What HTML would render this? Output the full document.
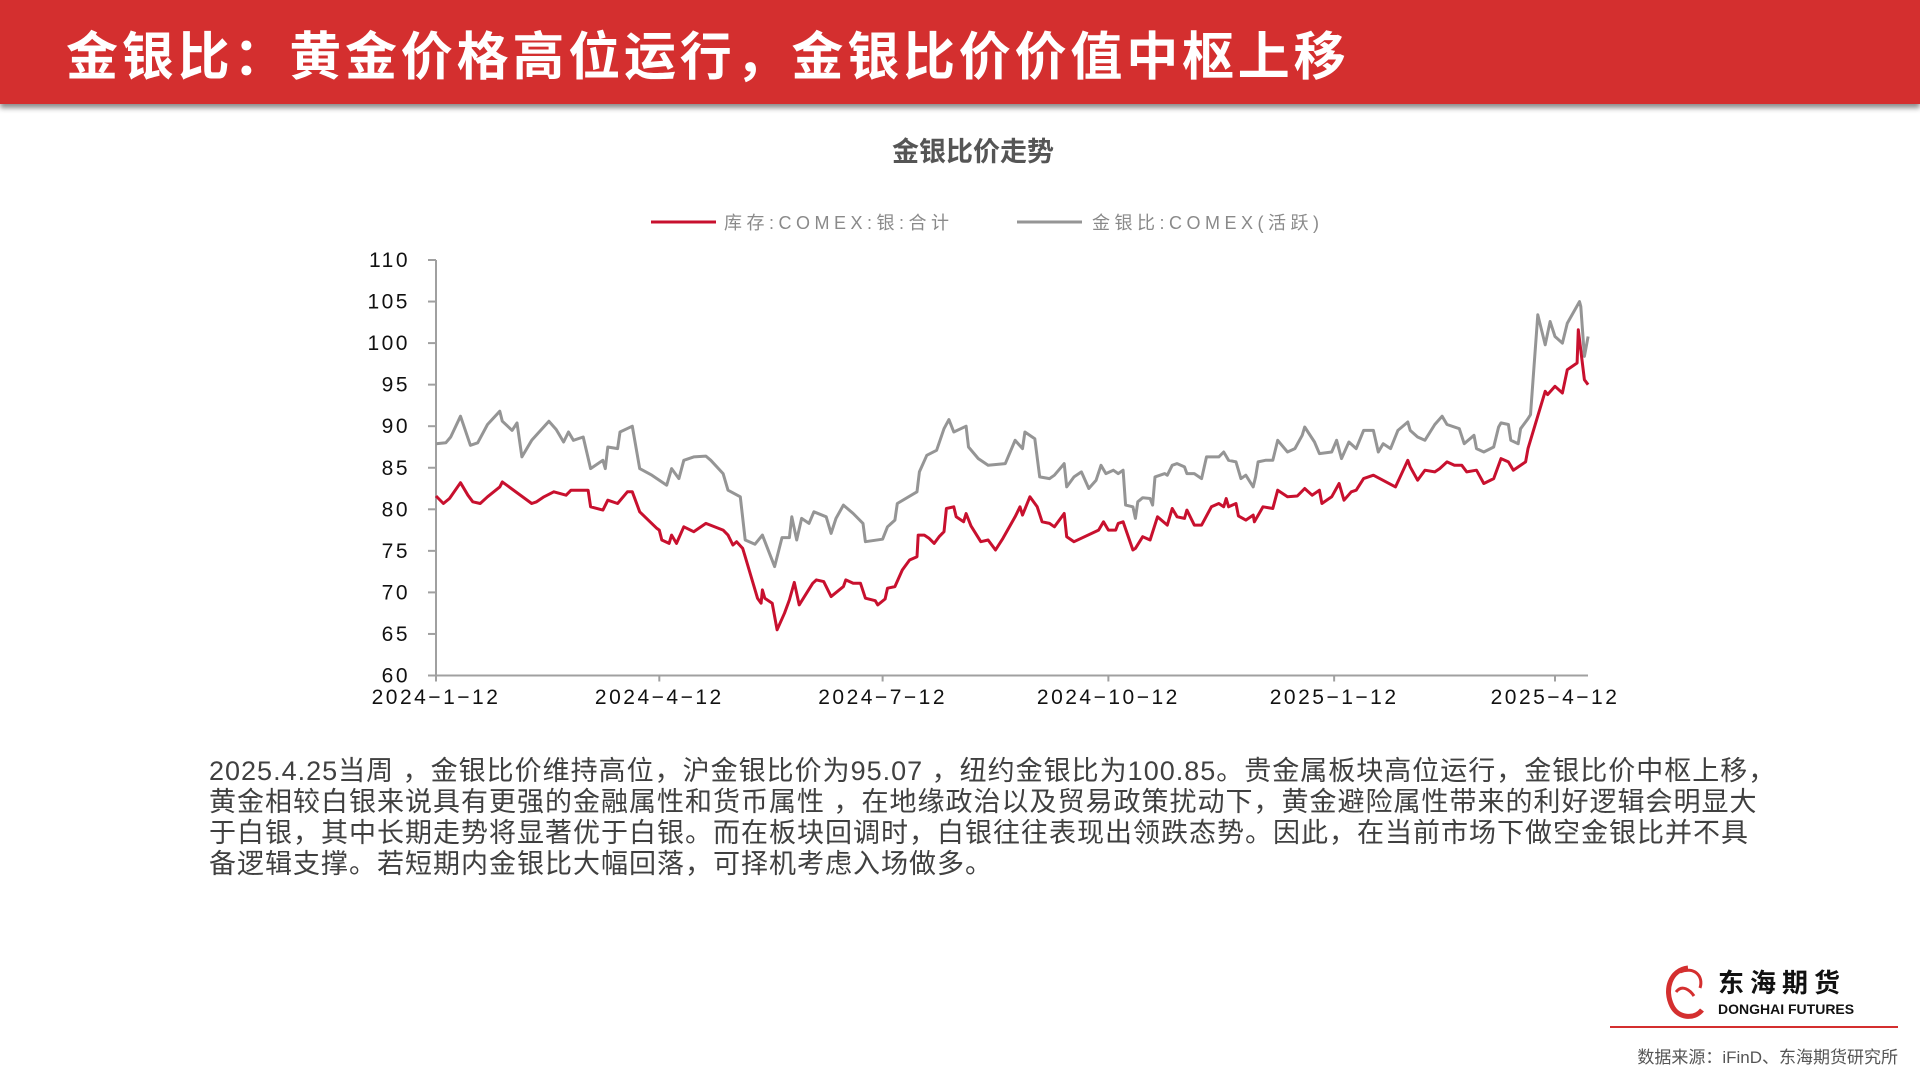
<!DOCTYPE html>
<html><head><meta charset="utf-8"><style>
body{margin:0;width:1920px;height:1080px;background:#fff;position:relative;overflow:hidden;font-family:"Liberation Sans","Noto Sans CJK SC",sans-serif}
#hdr{position:absolute;left:0;top:0;width:1920px;height:104px;background:#d42f2f;box-shadow:0 4px 5px rgba(0,0,0,.45)}
#hdr h1{margin:0;position:absolute;left:66px;top:28px;font-size:52px;line-height:60px;color:#fff;font-weight:bold;letter-spacing:3.8px}
#ctitle{position:absolute;left:0;width:1946px;top:130px;text-align:center;font-size:27px;font-weight:bold;color:#555}
#para{position:absolute;left:209px;top:756px;font-size:27px;line-height:31px;color:#404040;white-space:nowrap;letter-spacing:1px}
#src{position:absolute;right:22px;top:1043px;font-size:17px;color:#555}
#rule{position:absolute;left:1610px;top:1026px;width:288px;height:2px;background:#d42f2f}
#logo{position:absolute;left:1660px;top:962px;width:210px;height:62px}
</style></head><body>
<div id="hdr"><h1>金银比：黄金价格高位运行，金银比价价值中枢上移</h1></div>
<div id="ctitle">金银比价走势</div>
<svg id="chart" width="1920" height="1080" style="position:absolute;left:0;top:0"></svg>
<div id="para">2025.4.25当周 ，金银比价维持高位，沪金银比价为95.07 ，纽约金银比为100.85。贵金属板块高位运行，金银比价中枢上移，<br>黄金相较白银来说具有更强的金融属性和货币属性 ，在地缘政治以及贸易政策扰动下，黄金避险属性带来的利好逻辑会明显大<br>于白银，其中长期走势将显著优于白银。而在板块回调时，白银往往表现出领跌态势。因此，在当前市场下做空金银比并不具<br>备逻辑支撑。若短期内金银比大幅回落，可择机考虑入场做多。</div>
<svg id="logo" viewBox="0 0 210 62">
<path d="M28 6 C10 8 4 28 12 44 C18 56 34 58 42 48" fill="none" stroke="#d42f2f" stroke-width="5"/>
<path d="M20 10 C34 4 44 14 40 26 M16 30 C22 22 30 28 34 34" fill="none" stroke="#d42f2f" stroke-width="3"/>
<text x="58" y="30" font-size="26" font-weight="bold" fill="#111" font-family="Liberation Sans,Noto Sans CJK SC,sans-serif" letter-spacing="6">东海期货</text>
<text x="58" y="52" font-size="14" font-weight="bold" fill="#111" font-family="Liberation Sans,sans-serif">DONGHAI FUTURES</text>
</svg>
<div id="rule"></div>
<div id="src">数据来源：iFinD、东海期货研究所</div>
<script>
const xTickLabels=["2024-1-12","2024-4-12","2024-7-12","2024-10-12","2025-1-12","2025-4-12"];
const xTickDays=[0,91,182,274,366,456];
const yTicks=[60,65,70,75,80,85,90,95,100,105,110];
const seriesNames=["库存:COMEX:银:合计","金银比:COMEX(活跃)"];
const redDays=[0,3,5.5,10,13,15,18,21,26,27,39,41,44,48,53,55,62,63,68,70,74,78,80,83,90,91,92,95,96,98,101,105,110,117,119,121,122.5,125,126,131,132.5,133,134,137,139,142,144,146,148,153.5,155,158,161,166,167,170,173,175,179,180,183,184,187,190,193,196,196.5,199,201,203,205,207,208,211,212,215,216,218,222,225,228,231,236,238,239,242,245,247,250,252,256,257,260,270,272,274,277,278,280,284,285,288,291,294,298,300,302,305,306,309,312,316,319,321,322,323,326,327,330,333,333.5,337,341,343,347,351,354,357,360,361,365,368,370,373,375,378,382,391,396,397,400,403,407,409,412,415,418,420,424,427,431,434,437,439,444,445,452,453,456,459,461,465,465.5,468,469.5];
const redVals=[81.6,80.7,81.3,83.2,81.7,80.9,80.7,81.5,82.7,83.3,80.7,80.9,81.5,82.1,81.7,82.3,82.3,80.3,79.9,81.1,80.7,82.1,82.1,79.7,77.7,77.5,76.3,75.9,76.9,75.9,77.9,77.3,78.3,77.5,76.9,75.7,76.1,75.3,74.3,69.3,68.7,70.3,69.3,68.7,65.5,67.5,69.1,71.2,68.5,71.1,71.5,71.3,69.5,70.7,71.5,71.1,71.1,69.3,69.0,68.5,69.2,70.5,70.7,72.7,73.9,74.3,76.9,76.9,76.5,75.9,76.7,77.3,80.1,80.3,79.1,78.5,79.5,78.0,76.1,76.3,75.1,76.5,79.1,80.3,79.3,81.5,80.3,78.5,78.3,77.9,79.5,76.7,76.1,77.5,78.5,77.5,77.5,78.3,78.5,75.1,75.3,76.7,76.3,79.1,78.1,80.1,79.1,78.9,79.9,78.1,78.1,80.3,80.7,80.3,81.3,80.3,80.7,79.2,78.7,79.3,78.5,80.3,80.1,82.3,81.5,81.6,82.5,81.7,82.3,80.7,81.5,83.1,81.1,82.1,82.3,83.7,84.1,82.7,85.9,85.1,83.5,84.7,84.5,84.9,85.7,85.3,85.3,84.5,84.7,83.1,83.7,86.1,85.7,84.7,85.7,87.3,94.2,93.8,94.8,94.0,96.8,97.6,101.6,95.6,95.0];
const grayDays=[0,4,6,10,14,17,21,26,27,31,33,35,39,46,49,52,54,56,60,63,68,69,70,74,75,80,83,88,94,96,99,101,105,110,112,117,119,124,126,130,133,138,141,144,145,147,149,152,154,159,161,163,166,170,174,175,182,184,187,188,196,197,200,204,207,209,211,216,217,221,225,232,236,239,240,244,246,250,252,256,257,260,263,266,269,271,273,276,278,280,281,284,285,286,288,291,292,293,297,298,300,302,305,306,309,312,314,319,321,323,326,328,330,333,334,335,338,341,343,347,350,353,354,358,360,365,367,369,372,375,378,382,384,386,389,392,396,397,400,403,407,410,412,417,419,423,424,427,431,433,434,437,438,441,442,445,446,449,452,454,456,459,461,466,466.5,468,469.5];
const grayVals=[87.9,88.0,88.7,91.2,87.7,88.0,90.2,91.8,90.6,89.5,90.4,86.3,88.3,90.6,89.6,88.1,89.3,88.3,88.7,84.9,85.9,84.9,87.5,87.3,89.3,90.0,84.9,84.1,82.9,84.9,83.7,85.9,86.3,86.4,85.9,84.3,82.3,81.5,76.3,75.8,76.9,73.1,76.6,76.6,79.1,76.3,78.9,78.3,79.7,79.1,77.1,78.9,80.5,79.5,78.3,76.1,76.4,77.9,78.7,80.7,82.1,84.5,86.5,87.1,89.7,90.8,89.3,90.0,87.5,86.1,85.3,85.5,88.3,87.3,89.3,88.5,83.9,83.7,84.1,85.5,82.7,83.9,84.5,82.5,83.5,85.3,84.3,84.7,84.3,84.7,80.5,80.3,78.9,80.9,81.4,81.3,80.5,83.9,84.3,84.1,85.3,85.5,85.1,84.3,84.3,83.7,86.3,86.3,86.9,85.9,85.7,83.7,84.1,82.7,83.9,85.7,85.9,85.9,88.3,86.9,87.3,88.9,89.9,88.1,86.7,86.9,88.3,86.1,88.1,87.3,89.5,89.5,86.9,87.9,87.3,89.5,90.5,89.5,88.7,88.3,90.2,91.2,90.2,89.7,87.9,88.9,87.3,86.9,87.5,89.9,90.4,90.2,88.3,87.9,89.7,90.9,91.4,103.4,99.8,102.6,100.8,100.0,102.4,105.0,104.4,98.4,100.8];

const svg=document.getElementById('chart');
const NS='http://www.w3.org/2000/svg';
const X0=436,PXD=(1555-436)/456,Y0=675.5,Y1=260,XEND=1588;
const xs=d=>X0+d*PXD;
const ys=v=>Y0-(v-60)/50*(Y0-Y1);
function mk(tag,attrs){const e=document.createElementNS(NS,tag);for(const k in attrs)e.setAttribute(k,attrs[k]);svg.appendChild(e);return e;}
const ax=mk('line',{x1:X0,y1:Y1,x2:X0,y2:Y0,stroke:'#a0a0a0','stroke-width':2});


const bx=mk('line',{x1:X0,y1:Y0,x2:XEND,y2:Y0,stroke:'#a0a0a0','stroke-width':2});


yTicks.forEach(v=>{
 mk('line',{x1:X0-8,x2:X0,y1:ys(v),y2:ys(v),stroke:'#a0a0a0','stroke-width':2});
 const t=mk('text',{x:410,y:ys(v)+7,'text-anchor':'end','font-size':21,fill:'#111','font-family':'Liberation Sans,sans-serif','letter-spacing':'2.5'});
 t.textContent=v;
 
 
});
xTickDays.forEach((d,i)=>{
 mk('line',{x1:xs(d),x2:xs(d),y1:Y0,y2:Y0+6,stroke:'#a0a0a0','stroke-width':2});
 const t=mk('text',{x:xs(d),y:704,'text-anchor':'middle','font-size':21,fill:'#111','font-family':'Liberation Sans,sans-serif','letter-spacing':'2.5'});
 t.textContent=xTickLabels[i].replace(/-/g,'\u2212');
 
 
});
function line(days,vals,color,name){
 const p=mk('polyline',{points:days.map((d,i)=>xs(d).toFixed(1)+','+ys(vals[i]).toFixed(1)).join(' '),fill:'none',stroke:color,'stroke-width':3,'stroke-linejoin':'round'});
 
 
}
line(grayDays,grayVals,'#959595','series-comex-gold-silver-ratio');
line(redDays,redVals,'#c8102e','series-comex-silver-inventory');
const lg=[[651,716,724,'#c8102e'],[1017,1082,1092,'#959595']];
lg.forEach((l,i)=>{
 mk('line',{x1:l[0],x2:l[1],y1:222,y2:222,stroke:l[3],'stroke-width':3});
 const t=mk('text',{x:l[2],y:229,'font-size':18,fill:'#8a8a8a','font-family':'Liberation Sans,Noto Sans CJK SC,sans-serif','letter-spacing':'4.5'});
 t.textContent=seriesNames[i];
 
 
});
</script>
</body></html>
